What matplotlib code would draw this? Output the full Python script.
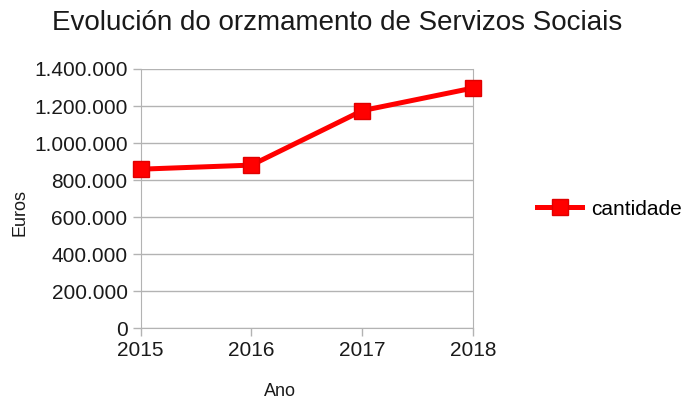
import matplotlib
matplotlib.use('Agg')
import matplotlib.pyplot as plt
from matplotlib.ticker import FuncFormatter

plt.rcParams['font.family'] = ['Liberation Sans', 'DejaVu Sans']

# datos
anos = ['2015', '2016', '2017', '2018']
cantidade = [859000, 881000, 1175000, 1297000]
yticks = [0, 200000, 400000, 600000, 800000, 1000000, 1200000, 1400000]

fig = plt.figure(figsize=(6.84, 4.01), dpi=100)
ax = fig.add_axes([0.2057, 0.1813, 0.4858, 0.6467])

x = list(range(len(anos)))
ax.plot(x, cantidade, color='#ff0000', lw=3.6, marker='s', markersize=12,
        markeredgecolor='#e00000', label='cantidade', zorder=3, clip_on=False)

ax.set_xlim(0, len(anos) - 1)
ax.set_ylim(0, 1400000)
ax.set_xticks(x)
ax.set_xticklabels(anos)
ax.set_yticks(yticks)
ax.yaxis.set_major_formatter(FuncFormatter(lambda v, p: f'{int(v):,}'.replace(',', '.')))

ax.grid(axis='y', color='#b3b3b3', lw=1)
ax.set_axisbelow(True)
ax.spines['top'].set_visible(False)
for s in ['left', 'right', 'bottom']:
    ax.spines[s].set_color('#b3b3b3')
ax.tick_params(axis='both', colors='#b3b3b3', labelcolor='#1a1a1a', labelsize=15,
               length=6, width=1)
ax.tick_params(axis='x', pad=3)

# etiquetas dos eixos, situadas como no orixinal
fig.text(280 / 684, 1 - 391 / 401, 'Ano', ha='center', va='center', fontsize=13,
         color='#1a1a1a')
fig.text(20 / 684, 1 - 213 / 401, 'Euros', ha='center', va='center', fontsize=13,
         rotation=90, color='#1a1a1a')

fig.text(337 / 684, 0.942, 'Evolución do orzmamento de Servizos Sociais', ha='center',
         va='center', fontsize=20, color='#1a1a1a')

ax.legend(loc='center left', bbox_to_anchor=(1.135, 0.46), frameon=False,
          fontsize=15, handlelength=2.2, handletextpad=0.4)

fig.savefig('out.png', dpi=100)
